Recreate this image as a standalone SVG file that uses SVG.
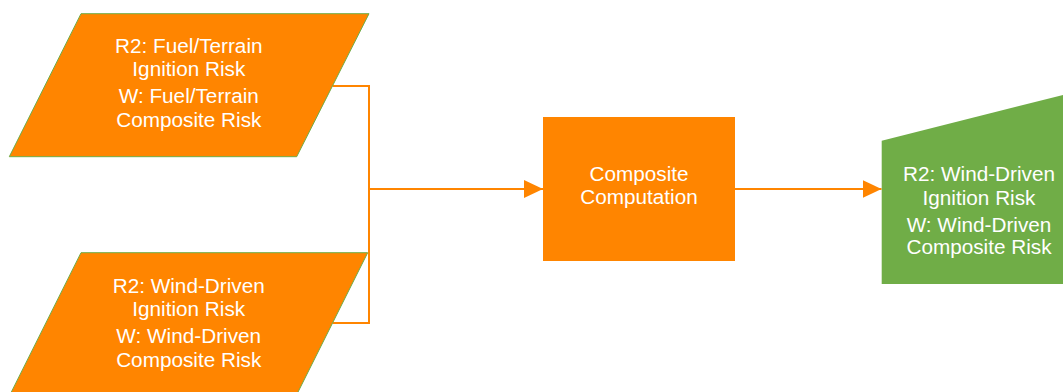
<svg xmlns="http://www.w3.org/2000/svg" width="1063" height="392" viewBox="0 0 1063 392">
  <defs>
    <style>
      .orange { fill: #ff8500; }
      .para { fill: #ff8500; stroke: #70ad47; stroke-width: 1; }
      .green { fill: #70ad47; }
      .lbl { font-family: "Liberation Sans", Arial, sans-serif; font-size: 19.3px; fill: #ffffff; text-anchor: middle; }
      .conn { fill: none; stroke: #ff8500; stroke-width: 2; }
    </style>
    <marker id="arrow" markerUnits="userSpaceOnUse" markerWidth="20" markerHeight="20" refX="19" refY="9" orient="auto">
      <path d="M0,0 L19,9 L0,18 Z" fill="#ff8500"/>
    </marker>
  </defs>
  <rect width="1063" height="392" fill="#ffffff"/>

  <g id="connectors">
    <path class="conn" d="M332.5,86 H369 V323 H332.5"/>
    <path class="conn" d="M369,189 H543" marker-end="url(#arrow)"/>
    <path class="conn" d="M735,189 H881.5" marker-end="url(#arrow)"/>
  </g>

  <g id="node-fuel-terrain">
    <polygon class="para" points="81,13.7 369,13.7 296.7,156.7 9.3,156.7"/>
    <g transform="translate(188.8 0) scale(1.075 1)">
      <text class="lbl" x="0" y="53.5">R2: Fuel/Terrain</text>
      <text class="lbl" x="0" y="76.5">Ignition Risk</text>
      <text class="lbl" x="0" y="103.5">W: Fuel/Terrain</text>
      <text class="lbl" x="0" y="126.8">Composite Risk</text>
    </g>
  </g>

  <g id="node-wind-driven-input">
    <polygon class="para" points="81,252.7 367.7,252.7 296.2,395.7 9.5,395.7"/>
    <g transform="translate(188.7 0) scale(1.075 1)">
      <text class="lbl" x="0" y="293.5">R2: Wind-Driven</text>
      <text class="lbl" x="0" y="316.5">Ignition Risk</text>
      <text class="lbl" x="0" y="343.5">W: Wind-Driven</text>
      <text class="lbl" x="0" y="366.8">Composite Risk</text>
    </g>
  </g>

  <g id="node-composite-computation">
    <rect class="orange" x="543" y="117" width="192" height="144"/>
    <g transform="translate(639 0) scale(1.075 1)">
      <text class="lbl" x="0" y="181">Composite</text>
      <text class="lbl" x="0" y="204.5">Computation</text>
    </g>
  </g>

  <g id="node-wind-driven-output">
    <polygon class="green" points="881.7,140.7 1076,91.7 1076,284 881.7,284"/>
    <g transform="translate(979 0) scale(1.075 1)">
      <text class="lbl" x="0" y="181.3">R2: Wind-Driven</text>
      <text class="lbl" x="0" y="205">Ignition Risk</text>
      <text class="lbl" x="0" y="231.7">W: Wind-Driven</text>
      <text class="lbl" x="0" y="254.5">Composite Risk</text>
    </g>
  </g>
</svg>
